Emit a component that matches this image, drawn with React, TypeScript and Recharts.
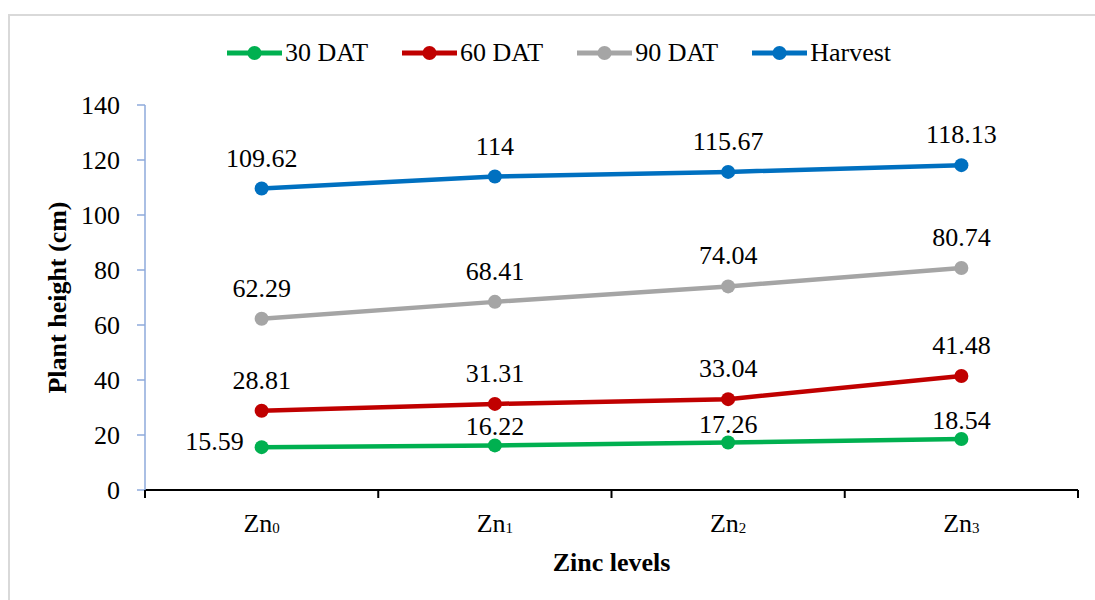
import React from 'react';
import { LineChart, Line, XAxis, YAxis, Label, LabelList } from 'recharts';

const categories = ['Zn0', 'Zn1', 'Zn2', 'Zn3'];
const dat30 = [15.59, 16.22, 17.26, 18.54];
const dat60 = [28.81, 31.31, 33.04, 41.48];
const dat90 = [62.29, 68.41, 74.04, 80.74];
const harvest = [109.62, 114, 115.67, 118.13];
const yTicks = [0, 20, 40, 60, 80, 100, 120, 140];
const seriesNames = ['30 DAT', '60 DAT', '90 DAT', 'Harvest'];
const seriesKeys = ['d30', 'd60', 'd90', 'harvest'];
const colors = ['#00B050', '#C00000', '#A5A5A5', '#0070C0'];

const data = categories.map((c, i) => ({
  cat: c,
  d30: dat30[i],
  d60: dat60[i],
  d90: dat90[i],
  harvest: harvest[i],
}));

const FONT = 'Liberation Serif';

const XTick = (props: any) => {
  const { x, y, payload, index, width, visibleTicksCount } = props;
  const half = width / visibleTicksCount / 2;
  const axisY = y - 8;
  const label: string = String(payload.value);
  const base = label.slice(0, label.length - 1);
  const sub = label.slice(label.length - 1);
  return (
    <g>
      <line x1={x - half} x2={x - half} y1={axisY} y2={axisY + 8} stroke="#000" strokeWidth={2} />
      {index === visibleTicksCount - 1 && (
        <line x1={x + half} x2={x + half} y1={axisY} y2={axisY + 8} stroke="#000" strokeWidth={2} />
      )}
      <text x={x} y={axisY + 42} textAnchor="middle" fontFamily={FONT} fontSize={26} fill="#000">
        {base}
        <tspan fontSize={15} dy={1}>{sub}</tspan>
      </text>
    </g>
  );
};

const makeLabel = (offset: number, firstLeft: boolean) => (props: any) => {
  const { x, y, value, index } = props;
  if (firstLeft && index === 0) {
    return (
      <text x={x - 18} y={y + 3} textAnchor="end" fontFamily={FONT} fontSize={26} fill="#000">
        {value}
      </text>
    );
  }
  return (
    <text x={x} y={y - offset} textAnchor="middle" fontFamily={FONT} fontSize={26} fill="#000">
      {value}
    </text>
  );
};

const labelOffsets = [10, 22, 22, 22];

export default function App() {
  return (
    <div
      style={{
        position: 'absolute',
        left: 8,
        top: 14,
        width: 1100,
        height: 600,
        borderLeft: '2px solid #d9d9d9',
        borderTop: '2px solid #d9d9d9',
        background: '#fff',
        fontFamily: FONT,
      }}
    >
      <div
        style={{
          position: 'absolute',
          left: 217,
          top: 22,
          display: 'flex',
          alignItems: 'center',
          gap: 34,
          height: 30,
        }}
      >
        {seriesNames.map((n, i) => (
          <div key={n} style={{ display: 'flex', alignItems: 'center' }}>
            <svg width={55} height={20}>
              <line x1={0} x2={55} y1={10} y2={10} stroke={colors[i]} strokeWidth={5} strokeLinecap="round" />
              <circle cx={27.5} cy={10} r={7} fill={colors[i]} />
            </svg>
            <span style={{ fontFamily: FONT, fontSize: 26, marginLeft: 3, color: '#000', lineHeight: '30px' }}>{n}</span>
          </div>
        ))}
      </div>
      <LineChart
        width={1085}
        height={584}
        data={data}
        margin={{ top: 89, right: 17, left: 20, bottom: 70 }}
      >
        <XAxis
          dataKey="cat"
          scale="band"
          height={40}
          axisLine={{ stroke: '#000', strokeWidth: 2 }}
          tickLine={false}
          tickSize={8}
          tickMargin={0}
          tick={<XTick />}
          interval={0}
        >
          <Label
            content={(p: any) => (
              <text
                x={p.viewBox.x + p.viewBox.width / 2}
                y={p.viewBox.y + 81}
                textAnchor="middle"
                fontFamily={FONT}
                fontSize={26}
                fontWeight="bold"
                fill="#000"
              >
                Zinc levels
              </text>
            )}
          />
        </XAxis>
        <YAxis
          width={115}
          domain={[0, 140]}
          ticks={yTicks}
          interval={0}
          axisLine={{ stroke: '#8EAADB', strokeWidth: 1.5 }}
          tickLine={{ stroke: '#8EAADB', strokeWidth: 1.5 }}
          tickSize={8}
          tickMargin={17}
          tick={{ fontFamily: FONT, fontSize: 26, fill: '#000' }}
        >
          <Label
            content={(p: any) => {
              const cx = p.viewBox.x + 27;
              const cy = p.viewBox.y + p.viewBox.height / 2;
              return (
                <text
                  x={cx}
                  y={cy}
                  transform={`rotate(-90 ${cx} ${cy})`}
                  textAnchor="middle"
                  dominantBaseline="central"
                  fontFamily={FONT}
                  fontSize={26}
                  fontWeight="bold"
                  fill="#000"
                >
                  Plant height (cm)
                </text>
              );
            }}
          />
        </YAxis>
        {seriesKeys.map((k, i) => (
          <Line
            key={k}
            dataKey={k}
            name={seriesNames[i]}
            stroke={colors[i]}
            strokeWidth={4.5}
            dot={{ r: 7, fill: colors[i], stroke: colors[i], strokeWidth: 0 }}
            activeDot={false}
            isAnimationActive={false}
          >
            <LabelList dataKey={k} content={makeLabel(labelOffsets[i], i === 0)} />
          </Line>
        ))}
      </LineChart>
    </div>
  );
}
